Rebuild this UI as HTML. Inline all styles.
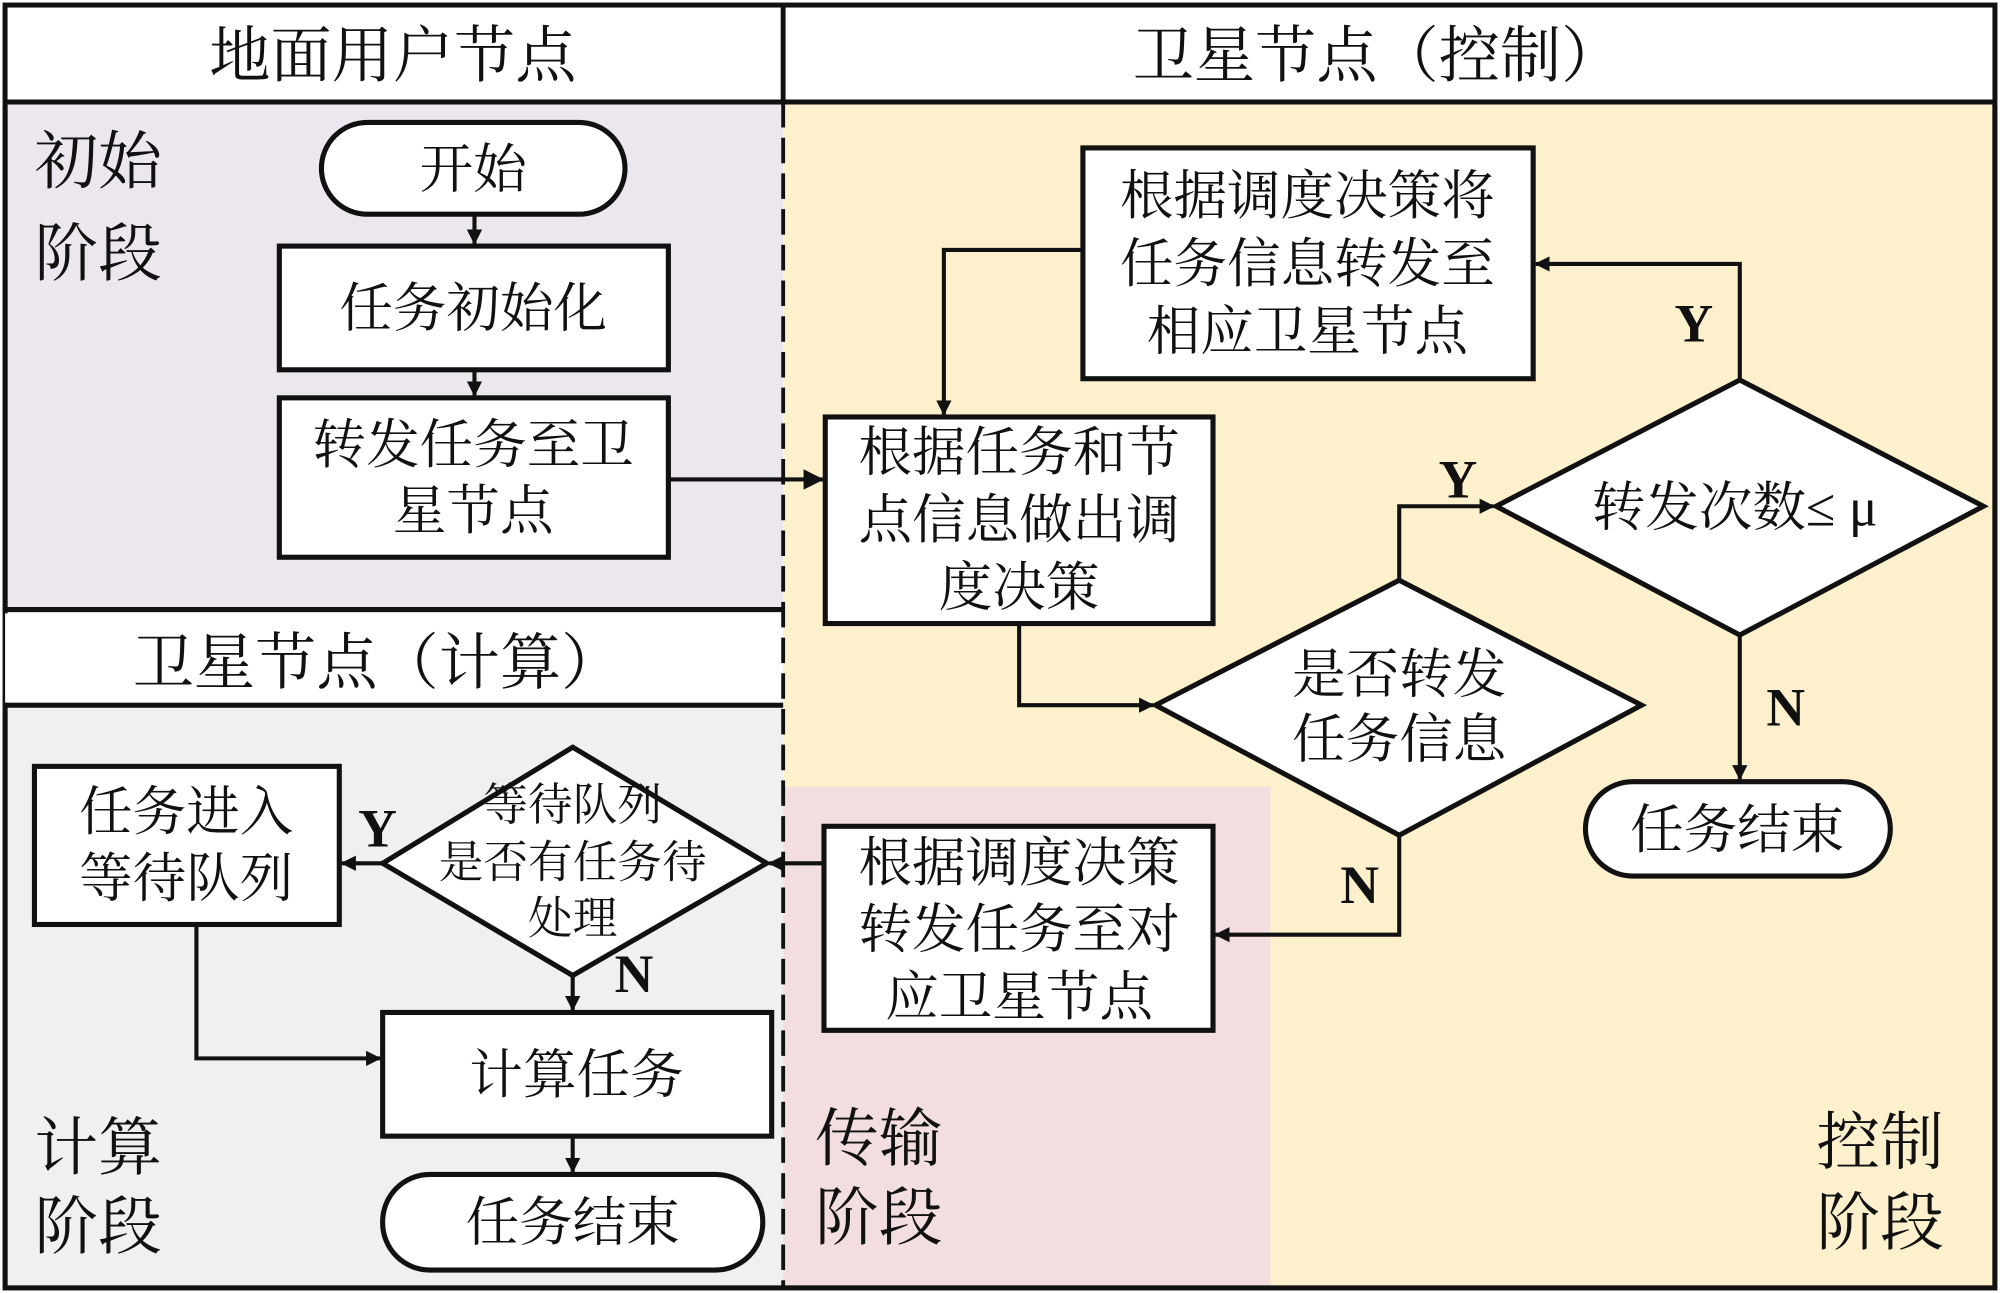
<!DOCTYPE html>
<html><head><meta charset="utf-8"><style>
html,body{margin:0;padding:0;background:#fff}
svg{display:block}
text{font-family:"Liberation Serif","Noto Serif CJK SC",serif;fill:#111}
</style></head><body>
<svg width="2000" height="1293" viewBox="0 0 1568 1014" preserveAspectRatio="none" xmlns="http://www.w3.org/2000/svg">
<defs><marker id="a" markerWidth="12" markerHeight="12" refX="11" refY="6" orient="auto" markerUnits="userSpaceOnUse"><path d="M0,0 L12,6 L0,12 Z" fill="#111"/></marker>
<marker id="b" markerWidth="16" markerHeight="16" refX="15" refY="8" orient="auto" markerUnits="userSpaceOnUse"><path d="M0,0 L16,8 L0,16 Z" fill="#111"/></marker></defs>
<rect x="0" y="0" width="1568" height="1014" fill="#fff"/>
<rect x="4" y="80" width="610" height="398" fill="#ece6ee"/>
<rect x="4" y="553" width="610" height="457" fill="#f0f0f0"/>
<rect x="614" y="80" width="950" height="930" fill="#fdf0cc"/>
<rect x="614" y="617" width="382" height="393" fill="#f2dede"/>
<g stroke="#111" stroke-width="4" fill="none">
<rect x="4" y="4" width="1560" height="1006"/>
<line x1="4" y1="80" x2="1564" y2="80"/>
<line x1="4" y1="478" x2="614" y2="478"/>
<line x1="4" y1="553" x2="614" y2="553"/>
<line x1="614" y1="4" x2="614" y2="80"/>
</g>
<line x1="614" y1="80" x2="614" y2="1010" stroke="#111" stroke-width="3" stroke-dasharray="20,8"/>
<rect x="4" y="481" width="608" height="70" fill="#fff"/>
<rect x="6" y="6" width="606" height="72" fill="#fff"/>
<rect x="616" y="6" width="946" height="72" fill="#fff"/>
<g font-size="48" text-anchor="middle">
<text x="308" y="60">地面用户节点</text>
<text x="1080" y="60">卫星节点（控制）</text>
<text x="296" y="536">卫星节点（计算）</text>
</g>
<g stroke="#111" stroke-width="4" fill="#fff">
<rect x="252" y="96" width="238" height="72" rx="36"/>
<rect x="219" y="193" width="305" height="97"/>
<rect x="219" y="312" width="305" height="125"/>
<rect x="647" y="327" width="304" height="162"/>
<rect x="849" y="116" width="353" height="181"/>
<polygon points="1173,397 1364,298 1555,397 1364,498"/>
<polygon points="906,553 1097,455 1287,553 1097,655"/>
<rect x="1243" y="613" width="239" height="74" rx="37"/>
<rect x="646" y="648" width="305" height="160"/>
<polygon points="300,677 449,586 601,677 449,765"/>
<rect x="27" y="601" width="239" height="124"/>
<rect x="300" y="794" width="305" height="97"/>
<rect x="300" y="921" width="298" height="75" rx="37"/>
</g>
<g stroke="#111" stroke-width="3.2" fill="none" marker-end="url(#a)">
<line x1="372" y1="168" x2="372" y2="191"/>
<line x1="372" y1="290" x2="372" y2="310"/>
<polyline points="849,196 740,196 740,325"/>
<polyline points="1364,298 1364,207 1204,207"/>
<polyline points="799,489 799,553 904,553"/>
<polyline points="1097,455 1097,397 1171,397"/>
<line x1="1364" y1="498" x2="1364" y2="611"/>
<polyline points="1097,655 1097,733 953,733"/>
<line x1="646" y1="677" x2="603" y2="677"/>
<line x1="300" y1="677" x2="268" y2="677"/>
<line x1="449" y1="765" x2="449" y2="792"/>
<polyline points="154,725 154,830 298,830"/>
<line x1="449" y1="891" x2="449" y2="919"/>
</g>
<line x1="524" y1="376" x2="645" y2="376" stroke="#111" stroke-width="3.2" marker-end="url(#b)"/>
<g font-size="42" text-anchor="middle">
<text x="371" y="147">开始</text>
<text x="371" y="256">任务初始化</text>
<text x="371" y="363">转发任务至卫</text>
<text x="371" y="415">星节点</text>
<text x="799" y="369">根据任务和节</text>
<text x="799" y="422">点信息做出调</text>
<text x="799" y="475">度决策</text>
<text x="1025" y="168">根据调度决策将</text>
<text x="1025" y="221">任务信息转发至</text>
<text x="1025" y="274">相应卫星节点</text>
<text x="1360" y="412">转发次数≤ μ</text>
<text x="1097" y="543">是否转发</text>
<text x="1097" y="594">任务信息</text>
<text x="1362" y="665">任务结束</text>
<text x="799" y="691">根据调度决策</text>
<text x="799" y="743">转发任务至对</text>
<text x="799" y="796">应卫星节点</text>
<text x="146" y="651">任务进入</text>
<text x="146" y="703">等待队列</text>
<text x="452" y="857">计算任务</text>
<text x="449" y="973">任务结束</text>
</g>
<g font-size="35" text-anchor="middle">
<text x="449" y="643">等待队列</text>
<text x="449" y="688">是否有任务待</text>
<text x="449" y="732">处理</text>
</g>
<g font-size="50">
<text x="27" y="144">初始</text>
<text x="27" y="216">阶段</text>
<text x="27" y="917">计算</text>
<text x="27" y="979">阶段</text>
<text x="639" y="910">传输</text>
<text x="639" y="972">阶段</text>
<text x="1424" y="913">控制</text>
<text x="1424" y="976">阶段</text>
</g>
<g font-size="42" font-weight="bold" text-anchor="middle">
<text x="1328" y="268">Y</text>
<text x="1143" y="390">Y</text>
<text x="1400" y="569">N</text>
<text x="1066" y="708">N</text>
<text x="296" y="664">Y</text>
<text x="497" y="778">N</text>
</g>
</svg>
</body></html>
